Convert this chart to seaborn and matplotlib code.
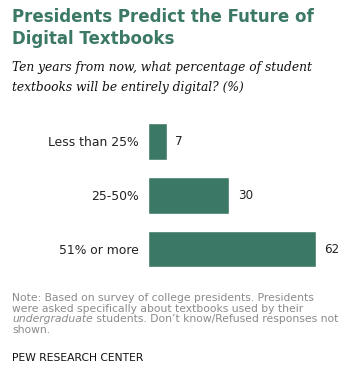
import matplotlib
matplotlib.use("Agg")
import matplotlib.pyplot as plt
import seaborn as sns
import pandas as pd

categories = ["Less than 25%", "25-50%", "51% or more"]
values = [7, 30, 62]

title_lines = ["Presidents Predict the Future of", "Digital Textbooks"]
subtitle_lines = ["Ten years from now, what percentage of student",
                  "textbooks will be entirely digital? (%)"]
source = "PEW RESEARCH CENTER"

GREEN = "#3b7866"
W, H = 355, 375
sns.set_theme(style="white")
plt.rcParams['font.family'] = ['DejaVu Sans']

fig = plt.figure(figsize=(W / 100, H / 100), dpi=100)

def fy(py):
    return 1 - py / H

def fx(px):
    return px / W

# axes: left 148px, 70 units -> 190px; top 114.5px, bottom 276px
ax = fig.add_axes([fx(148), fy(276), 190 / W, 161.5 / H])
df = pd.DataFrame({"cat": categories, "val": values})
sns.barplot(data=df, x="val", y="cat", orient="h", color=GREEN, width=0.68,
            saturation=1, ax=ax)
ax.set_xlim(0, 70)
ax.set_ylim(2.5, -0.5)
ax.set_xlabel("")
ax.set_ylabel("")
ax.set_xticks([])
for s in ax.spines.values():
    s.set_visible(False)
ax.tick_params(axis="y", length=0, pad=6.5, labelsize=8.9, labelcolor="#222222")
for cont in ax.containers:
    ax.bar_label(cont, padding=6, fontsize=8.6, color="#222222")

# title
for i, line in enumerate(title_lines):
    fig.text(fx(12), fy(16.5 + 22 * i), line, fontsize=12, fontweight="bold",
             color=GREEN, va="center", ha="left")
for i, line in enumerate(subtitle_lines):
    fig.text(fx(12), fy(68 + 19.5 * i), line, fontsize=8.8, fontstyle="italic",
             family="DejaVu Serif", color="#111111", va="center", ha="left")

NOTE_C = "#8a8a8a"
NS = 7.75
note_y = [298, 308.7, 319.4, 330]
fig.text(fx(12), fy(note_y[0]), "Note: Based on survey of college presidents. Presidents",
         fontsize=NS, color=NOTE_C, va="center")
fig.text(fx(12), fy(note_y[1]), "were asked specifically about textbooks used by their",
         fontsize=NS, color=NOTE_C, va="center")
t_it = fig.text(fx(12), fy(note_y[2]), "undergraduate", fontsize=NS, color=NOTE_C,
                va="center", fontstyle="italic")
r = fig.canvas.get_renderer()
bb = t_it.get_window_extent(renderer=r)
fig.text(bb.x1 / fig.bbox.width, fy(note_y[2]),
         " students. Don\u2019t know/Refused responses not",
         fontsize=NS, color=NOTE_C, va="center")
fig.text(fx(12), fy(note_y[3]), "shown.", fontsize=NS, color=NOTE_C, va="center")
fig.text(fx(12), fy(358), source, fontsize=NS, color="#111111", va="center")

fig.savefig("out.png", dpi=100)
